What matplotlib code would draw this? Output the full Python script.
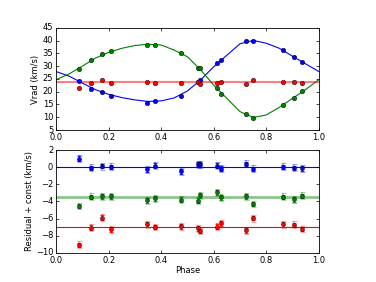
import matplotlib
matplotlib.use("Agg")
import matplotlib.pyplot as plt

plt.style.use('classic')

# observation phases
phase = [0.087, 0.132, 0.175, 0.209, 0.347, 0.375, 0.474, 0.541, 0.548,
         0.614, 0.627, 0.721, 0.749, 0.863, 0.907, 0.937]

# measured radial velocities (km/s)
blue_rv = [24.2, 21.2, 19.8, 18.4, 15.7, 16.2, 18.4, 24.0, 24.6,
           31.2, 32.4, 39.9, 39.9, 36.4, 33.6, 31.7]
green_rv = [29.0, 32.5, 34.6, 36.0, 38.4, 38.4, 35.0, 29.3, 29.3,
            21.6, 19.1, 11.2, 9.7, 14.8, 17.5, 20.2]
red_rv = [21.4, 23.5, 24.6, 23.3, 23.9, 23.5, 23.5, 23.7, 23.0,
          23.6, 23.9, 23.2, 24.4, 23.7, 23.7, 23.3]

# orbit models
curve_phase = [0.0, 0.05, 0.1, 0.15, 0.2, 0.25, 0.3, 0.35, 0.4, 0.45, 0.5,
               0.55, 0.6, 0.65, 0.7, 0.75, 0.8, 0.85, 0.9, 0.95, 1.0]
blue_curve = [27.9, 26.1, 23.4, 20.8, 19.0, 17.7, 16.8, 16.2, 16.4, 17.6, 20.3,
              24.6, 29.8, 34.3, 38.8, 40.1, 39.0, 37.0, 33.9, 30.9, 27.9]
green_curve = [24.7, 27.0, 30.0, 33.2, 35.4, 37.0, 38.1, 38.6, 38.3, 36.3, 33.7,
               28.6, 22.6, 17.4, 12.2, 9.9, 10.9, 13.9, 17.4, 20.9, 24.7]
red_const = 23.7

# residuals (km/s) and offsets used in the lower panel
blue_res = [0.98, -0.08, 0.12, 0.04, -0.24, 0.16, -0.5, 0.35, 0.35,
            0.16, -0.16, 0.39, -0.2, 0.04, -0.08, -0.12]
green_res = [-1.03, 0.04, 0.11, 0.11, -0.36, -0.12, -0.28, -0.4, 0.23,
             0.55, 0.0, 0.11, -0.79, 0.04, -0.24, 0.15]
red_res = [-2.06, -0.05, 1.13, -0.24, 0.35, 0.03, 0.11, -0.13, -0.44,
           0.07, 0.46, -0.36, 1.06, 0.35, 0.27, -0.2]
offsets = [0.0, -3.5, -7.0]
err_total = 0.4
err_meas = 0.27

fig = plt.figure(figsize=(3.76, 2.82), dpi=100, facecolor='white')
ax1 = fig.add_axes([0.149, 0.539, 0.699, 0.362])
ax2 = fig.add_axes([0.149, 0.103, 0.699, 0.365])

# top panel
ax1.plot(curve_phase, blue_curve, 'b-', lw=0.8)
ax1.plot(curve_phase, green_curve, 'g-', lw=0.8)
ax1.axhline(red_const, color='r', lw=1.5, alpha=0.5)
for vals, c in [(blue_rv, 'b'), (green_rv, 'g'), (red_rv, 'r')]:
    ax1.plot(phase, vals, 'o', color=c, ms=3.3, mec='k', mew=0.3)
ax1.set_xlim(0, 1)
ax1.set_ylim(5, 45)
ax1.set_yticks(range(5, 50, 5))
ax1.set_ylabel('Vrad (km/s)', fontsize=6, labelpad=2)

# bottom panel
ax2.axhline(offsets[0], color='b', lw=0.8)
ax2.axhline(offsets[1], color='g', lw=2, alpha=0.45)
ax2.axhline(offsets[2], color='r', lw=0.8)
for res, off, c in [(blue_res, offsets[0], 'b'), (green_res, offsets[1], 'g'),
                    (red_res, offsets[2], 'r')]:
    y = [r + off for r in res]
    ax2.errorbar(phase, y, yerr=err_total, fmt='none', ecolor=c, alpha=0.35,
                 elinewidth=1.2, capsize=1.8, capthick=0.8)
    ax2.errorbar(phase, y, yerr=err_meas, fmt='none', ecolor=c,
                 elinewidth=0.6, capsize=1.3, capthick=0.6)
    ax2.plot(phase, y, 'o', color=c, ms=3.0, mec='k', mew=0.3)
ax2.set_xlim(0, 1)
ax2.set_ylim(-10, 2)
ax2.set_yticks(range(-10, 3, 2))
ax2.set_ylabel('Residual + const (km/s)', fontsize=6, labelpad=1)
ax2.set_xlabel('Phase', fontsize=6, labelpad=1)

for ax in (ax1, ax2):
    ax.set_xticks([0.0, 0.2, 0.4, 0.6, 0.8, 1.0])
    ax.tick_params(direction='in', length=2.5, width=0.5, labelsize=6, pad=2,
                   top=True, right=True)
    for s in ax.spines.values():
        s.set_linewidth(0.6)

fig.savefig('out.png', dpi=100, facecolor='white')
